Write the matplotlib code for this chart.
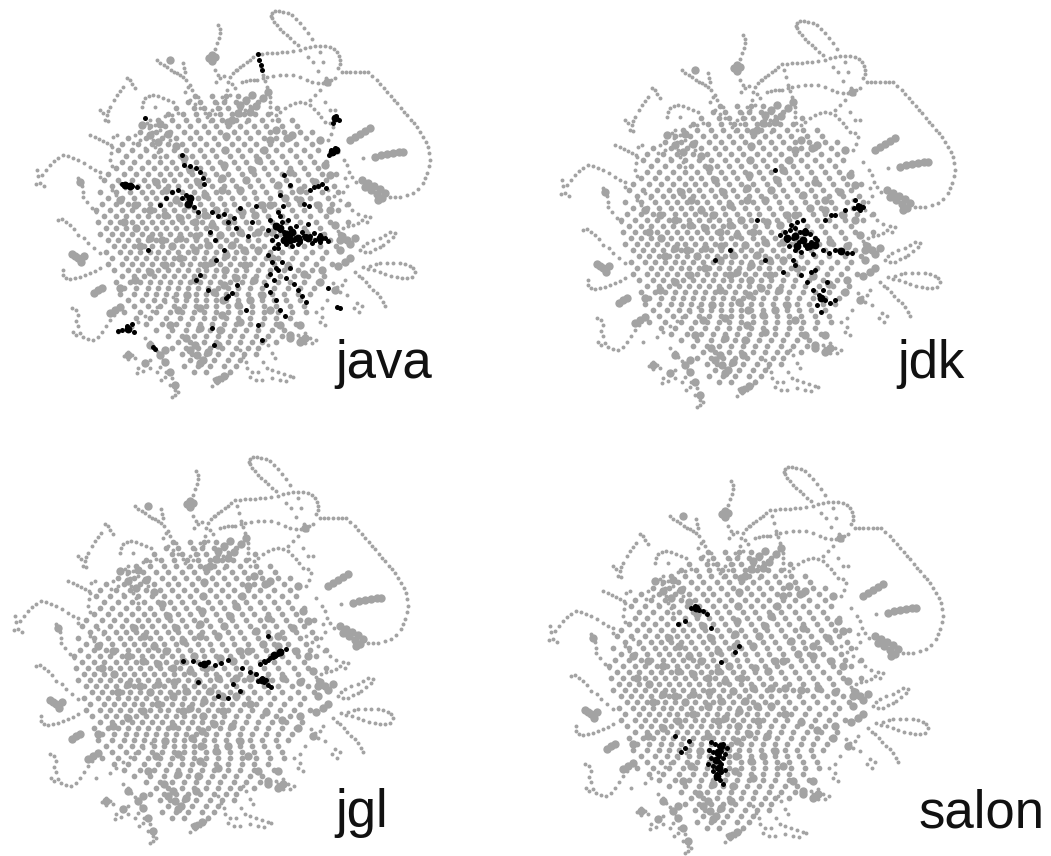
import numpy as np
import matplotlib
matplotlib.use('Agg')
import matplotlib.pyplot as plt

plt.rcParams['font.family'] = ['Liberation Sans', 'DejaVu Sans']

# all four panels show the same layout, coordinates
loop_chain = [(272,13),(275,11),(279,11),(283,12),(288,13),(292,15),(296,19),(300,23),(304,28),(308,33),(312,39),
              (271,16),(272,18),(274,22),(277,25),(280,29),(283,32),(287,35),(290,38),(294,42),(298,45),
              (262,54),(267,53),(272,53),(277,53),(282,52),(287,52),(293,51),(300,50),(305,48),(310,47),(315,46),(320,46),(325,46),(330,47),(334,49),(337,52),(339,56),(340,60),(340,64),(338,68),(342,72),(346,72),(350,72),(355,72),(360,72),(364,72),(368,72),(372,76),(377,80),(380,84),(384,88),(387,92),(391,96),(394,100),(397,103),(401,108),(404,112),(407,115),(411,120),(414,123),(417,127),(420,132),(423,137),(426,142),(428,147),(429,153),(430,160),(429,166),(427,173),(425,178),(423,183),(418,189),(413,193),(407,195),(400,197),(395,197),(390,197),
              (308,57),(320,52),(313,62),(323,62),(318,71),
              (263,78),(267,77),(273,76),(280,75),(286,75),(293,75),(300,77),(307,80),(312,82),(318,83),(323,83),(327,82),(331,80),(335,78),(326,78),(329,84),
              (230,77),(233,73),(237,70),(240,67),(243,65),(247,62),(250,60),(253,57),(242,82),(246,81),(250,80),(254,80),(257,80),
              (257,54),(259,60),(261,67),(263,75),(265,81),(267,87),(269,92),(270,97),(270,102),(270,107),(271,113),(272,120),
              (276,115),(280,112),(285,108),(290,105),(295,103),(300,102),(305,103),(310,105),(314,109),(318,113),(321,117),(325,122),(330,123),(333,127),(331,134),(328,140),(335,110),
              (363,158),(347,165),(349,172),(345,178),(347,186),(343,192),(352,177),(356,182)]

top_left = [(218,25),(220,29),(220,33),(219,38),(217,43),(215,49),(215,70),(218,75),(220,78),(216,82),(224,76),(228,82),(236,70),
            (157,60),(160,63),(164,65),(167,67),(171,70),(174,72),(177,73),(180,75),(183,63),(184,68),(185,72),(183,77),(186,80),(188,87),(190,85),
            (127,78),(130,80),(132,84),(135,88),(123,87),(120,91),(117,95),(114,100),(110,107),(108,111),(107,115),(100,110),(103,113),(105,120),(108,121),
            (142,107),(143,102),(145,98),(149,96),(153,95),(158,96),(163,98),(168,100),(173,102),(147,123),(149,128),(152,132),(153,140),(155,147),(158,152),(160,157),(160,122),(165,116),(172,115),(178,113),(155,107),
            (90,135),(95,137),(99,139),(103,141),(107,143),(111,145),(117,135),(113,137),(112,147),(111,153),(110,160),(112,166),(135,135),(140,140),(145,148),(133,143),
            (37,170),(38,176),(36,184),(40,183),(44,186),(42,175),(46,170),(50,165),(54,161),(58,158),(63,155),(68,156),(73,158),(78,160),(84,163),(90,167),(95,170),(100,172),(100,177),
            (78,178),(80,182),(82,186),(83,192),(83,197),(87,202),(92,208),(96,212),(112,190),(116,195),(120,183),(125,188)]

left_bottom = [(58,220),(62,219),(66,222),(70,225),(74,229),(78,235),(84,238),(88,243),(94,248),(100,253),
               (63,270),(63,275),(66,278),(70,279),(75,278),(80,277),(85,275),(90,273),(95,271),(100,268),
               (72,308),(76,310),(78,315),(76,321),(78,326),(73,332),(76,335),(80,333),(83,337),(88,339),(93,340),(98,337),(102,332),(106,326),(110,320),(114,315),
               (118,332),(132,327),(138,322),(145,316),(152,311),(157,307),(165,302),(173,297),
               (145,338),(150,342),(153,347),(157,351),(145,363),(150,360),(138,368),(137,373),(143,371),(150,368),
               (163,360),(160,367),(166,372),(165,377),(172,378),(170,385),(175,390),(175,395),(172,397),(178,392),(157,372),(161,380),
               (128,352),(124,356),(132,355),(135,358),(128,359),
               (217,383),(212,386),(222,380),(227,375),(230,371),(219,377),(214,379)]

right_bottom = [(243,357),(246,362),(240,350),(247,368),(252,372),(250,377),(256,380),(262,380),(258,372),(263,362),(267,368),(272,370),(278,372),(284,374),(290,376),(293,377),(280,380),(286,381),(272,378),(272,353),(275,358),(268,345),(265,340),
                (305,333),(300,338),(310,338),(305,343),(298,335),(312,343),(316,340),(322,317),(320,322),(316,312),(325,325),(322,308),(327,300),
                (357,303),(354,308),(359,312),(362,306),(337,287),(342,285),(340,292),(333,283),(347,295),(345,280),
                (355,272),(359,276),(362,278),(366,282),(369,286),(373,290),(377,293),(380,297),(383,302),(385,306),
                (363,267),(370,266),(376,264),(380,263),(387,263),(393,263),(400,263),(405,264),(410,266),(413,268),(415,272),(412,277),(407,278),(402,278),(397,277),(391,276),(385,274),(380,272),(374,270),(368,269),
                (395,233),(390,232),(385,235),(380,238),(373,240),(367,243),(363,246),(360,250),(365,252),(370,252),(375,249),(380,247),(383,245),(388,241),(393,237),
                (367,222),(362,220),(358,223),(353,225),(348,226),(343,228),(338,231),(370,217),(358,214),(365,216)]

# clumps drawn with a larger dot
blobs = [(212,55),(209,58),(215,57),(212,61),(350,140),(355,137),(360,134),(365,131),(370,128),
         (375,157),(381,155),(387,154),(393,153),(399,152),(403,152),
         (362,180),(368,183),(374,186),(380,189),(385,193),(365,187),(371,190),(377,194),(382,198),(378,200),
         (80,182),(78,258),(75,256),(81,262),(72,254),(84,256),(98,290),(94,293),(102,288),(115,310),(110,313),(120,307),
         (128,355),(145,363),(197,355),(203,360),(200,363),(208,352),(190,350),(195,345),
         (347,240),(350,244),(342,236),(355,238),(345,262),(350,258),(338,266),(287,138),(292,135),(327,82),(305,338),(300,342),(170,60),
         (240,105),(246,100),(252,95),(232,120),(238,113),(263,98),(268,92),(250,112),(256,106),
         (165,362),(170,372),(175,385),(160,355),(150,345),(165,350),(217,380),(224,376),(142,125),(150,135),(158,142),
         (320,140),(325,165),(300,200),(340,250),(330,210),(335,225),(318,205),(322,270),(300,325),(290,335)]

# radial arms through the dense part
arms = [(240,190),(246,180),(252,170),(258,160),(264,150),(270,140),(276,130),
        (222,190),(222,178),(224,165),(225,150),(226,136),(228,122),
        (205,195),(198,182),(190,170),(184,158),(176,146),(168,134),(160,124),
        (195,222),(180,218),(165,215),(150,210),(135,205),(120,200),
        (195,250),(180,258),(165,265),(150,272),(135,280),(120,288),
        (205,265),(195,280),(187,295),(178,310),(170,325),
        (225,270),(224,285),(223,300),(222,315),(220,330),(218,345),
        (245,265),(254,280),(262,295),(270,310),(280,325),(290,338),
        (258,232),(272,232),(288,234),(305,232),(322,236),(340,240),
        (255,215),(270,205),(285,198),(300,190),(315,182),(330,175),
        (258,250),(272,258),(288,266),(304,274),(320,282),(335,290),
        (205,215),(212,225),(220,235),(228,222),(216,210),(232,245),(208,245),(196,236),(240,232),(226,255),(212,262),(242,212),
        (180,238),(172,246),(162,240),(188,205),(176,200),(166,190),(156,182),(244,250),(236,278),(214,292),(200,308),(238,305),
        (150,238),(140,246),(136,228),(124,222),(262,205),(278,185),(290,172),(250,300),(240,322),(200,328),(186,338)]

# dense middle, one list of x values per row
center_rows = [
 (96,[195,212,226,238]),
 (102,[188,200,215,224,236,246,258]),
 (108,[176,194,204,218,228,240,251,277]),
 (114,[168,183,196,209,220,232,244,255,268]),
 (120,[158,172,186,198,212,222,236,248,262,278,292]),
 (126,[150,165,178,190,204,216,228,240,254,266,282,297]),
 (132,[140,156,170,184,196,208,220,234,246,258,270,284,300,312]),
 (138,[128,146,162,176,190,200,214,226,238,250,264,276,290,306]),
 (144,[122,138,152,168,182,194,206,218,232,244,256,270,282,296,312]),
 (150,[118,132,146,160,174,186,200,212,224,238,250,262,276,290,304,318]),
 (156,[126,140,154,166,180,192,204,216,230,242,256,268,282,296,310]),
 (162,[122,134,148,160,172,184,196,208,220,234,246,260,272,286,300,314,326]),
 (168,[116,130,142,154,166,176,188,200,212,224,238,250,264,276,290,304,318]),
 (174,[108,124,136,148,160,170,180,192,204,216,228,242,254,268,282,294,308,322,336]),
 (180,[104,118,132,144,154,164,174,186,196,208,220,232,246,258,272,286,298,312,326]),
 (186,[112,126,138,148,158,168,178,190,200,212,224,236,250,262,276,290,304,318,334]),
 (192,[100,116,130,142,152,162,172,182,194,204,216,228,240,254,266,280,292,306,322,338]),
 (198,[108,122,134,146,156,166,176,186,198,208,220,232,244,256,270,284,296,310,328]),
 (204,[102,116,128,138,150,160,170,180,190,200,212,224,234,248,260,274,288,300,316,332,348]),
 (210,[96,110,122,132,144,154,164,174,184,194,204,216,226,238,252,264,278,292,304,320,338]),
 (216,[104,116,126,138,148,158,168,178,188,198,208,220,230,242,254,268,282,296,310,326]),
 (222,[98,110,120,132,142,152,162,172,182,192,202,212,224,234,246,258,272,286,300,316,330,348]),
 (228,[106,116,126,136,146,156,166,176,186,196,206,216,228,238,250,262,276,290,304,320]),
 (234,[100,112,122,132,142,152,160,170,180,190,200,210,220,232,242,254,266,280,294,308,324,340]),
 (240,[108,118,128,138,148,156,166,176,186,196,206,216,226,236,248,258,272,286,300,314,330]),
 (246,[114,124,134,144,152,162,172,182,192,200,210,220,230,240,252,264,276,290,304,320,336]),
 (252,[106,120,130,140,150,158,168,178,188,196,206,216,226,236,246,258,270,282,296,312,326]),
 (258,[112,126,136,146,156,164,174,184,194,204,214,224,234,244,254,266,278,292,306,322]),
 (264,[108,122,132,142,152,162,172,182,190,200,210,220,230,240,250,262,274,288,302,316,332]),
 (270,[114,128,138,148,158,168,178,188,198,206,216,226,236,246,258,270,284,298,312]),
 (276,[122,134,144,154,164,174,184,194,204,214,224,234,244,256,268,280,294,308,324]),
 (282,[116,130,140,150,160,170,180,190,200,210,220,230,242,252,264,278,290,304,318]),
 (288,[124,136,148,158,168,178,188,198,208,218,228,238,250,262,274,288,300,314]),
 (294,[120,134,146,156,166,176,186,196,206,216,226,236,248,260,272,284,298,310]),
 (300,[128,142,154,164,176,186,196,206,216,226,238,250,262,274,286,300]),
 (306,[134,148,160,174,184,196,206,216,228,240,252,264,276,290,304]),
 (312,[124,140,156,170,182,194,204,216,228,240,252,264,278,292,306]),
 (318,[136,150,166,180,192,204,214,226,238,250,264,276,290]),
 (324,[146,162,176,188,200,212,224,236,250,262,276,296]),
 (330,[156,172,186,198,210,222,234,246,258,272,284]),
 (336,[168,182,194,206,218,230,242,256,268,282]),
 (342,[178,190,204,216,228,240,252,262,276]),
 (348,[172,186,198,210,222,236,248,258]),
 (354,[182,192,206,218,232,244,256]),
 (360,[190,202,214,228,240]),
 (366,[184,198,210,224,236]),
 (372,[194,206,230]),
]

# spokes that stand out from the middle
spokes = [(207,117),(212,110),(217,103),(222,97),(227,90),(232,84),(235,88),(230,95),(225,100),(220,108),(215,114),(210,121),
          (230,125),(235,120),(240,115),(245,110),(250,106),(234,131),(240,127),(246,122),
          (190,100),(195,104),(200,108),(205,113),(185,92),(192,90),(198,97),
          (150,120),(155,125),(160,130),(165,135),(170,140),(175,146),
          (310,100),(315,95),(320,90),(325,102),(330,110),(338,152),(344,160),
          (352,210),(346,205),(340,200),(334,196),(328,190)]

java_black = [(122,184),(127,185),(132,186),(137,187),(145,118),(258,54),(259,60),(261,65),(262,70),
              (336,116),(339,120),(333,123),(331,150),(335,148),(329,155),(333,153),
              (160,205),(166,198),(172,192),(178,190),(184,165),(190,166),(196,168),(200,172),(203,178),(204,184),
              (186,195),(190,202),(194,207),(182,198),(198,212),
              (212,212),(218,216),(224,214),(228,222),(234,218),(240,208),(236,228),(248,236),(252,222),(256,206),(210,232),(215,240),
              (270,220),(275,225),(280,230),(285,233),(290,236),(295,238),(300,240),(305,238),(310,236),(315,240),(320,235),(325,238),(328,241),
              (272,240),(278,244),(284,232),(290,228),(296,226),(302,232),(308,224),(314,233),(320,242),(276,236),(282,222),(288,220),(294,240),
              (300,242),(306,236),(312,243),(274,248),(280,216),(286,244),(292,246),(298,244),(304,236),(278,248),(284,175),(290,185),(280,195),(283,206),(278,212),
              (268,255),(272,262),(276,268),(270,274),(274,280),(278,270),(282,262),(286,278),(290,268),(294,284),(298,290),(302,296),(306,302),
              (266,285),(270,292),(276,300),(280,310),(285,316),
              (310,190),(314,187),(318,186),(322,184),(326,188),(304,204),(309,206),
              (228,296),(232,293),(226,298),(134,332),(122,330),(118,331),(127,326),(132,324),(153,347),(155,349),
              (337,307),(340,308),(328,288),(182,155),(148,250),(200,275),(196,280),(208,290),
              (237,285),(224,250),(246,310),(216,260),(258,325),(262,340),(214,345),(212,328),(268,230)]
java_big = [(280,228),(286,234),(292,232),(284,240),(276,226),(290,240),(298,238),(308,238),(320,238),(335,118),(332,152),(336,150),(190,198),(188,204),(125,185),(130,186),(128,329)]

jdk_black = [(255,225),(260,222),(265,220),(270,218),(275,222),(280,220),(285,224),(290,228),(262,230),(268,228),(274,232),(280,235),(286,232),(292,230),
             (264,236),(270,240),(276,242),(282,238),(288,244),(266,215),(272,212),(278,210),
             (298,240),(304,243),(310,240),(316,241),(322,243),(327,243),
             (333,195),(335,200),(329,198),(338,197),(300,210),(310,205),(320,200),(330,190),
             (270,255),(276,265),(282,272),(288,280),(294,285),(300,290),(305,293),(310,290),(298,280),(292,295),(302,272),(286,262),(296,302),
             (190,250),(205,240),(250,160),(240,250),(258,262),(268,250),(290,260),(306,205),(232,210)]
jdk_big = [(270,226),(278,230),(284,236),(272,236),(262,228),(280,222),(290,235),(334,197),(316,241),(296,288)]

jgl_black = [(292,212),(298,209),(303,205),(308,203),(286,215),(290,214),(295,211),(300,208),(282,218),(287,216),
             (205,215),(215,215),(222,218),(230,216),(237,219),(243,217),(250,214),
             (272,226),(278,228),(284,232),(286,236),(290,239),(280,235),(288,234),(293,241),(264,222),(250,252),(240,250),(255,238),(262,245),(290,190),(220,236)]
jgl_big = [(296,209),(302,206),(284,234),(226,218)]

salon_black = [(178,152),(182,150),(186,154),(190,155),(194,158),(172,165),(165,168),(198,172),(222,196),(226,190),(208,206),
               (198,286),(202,288),(206,290),(210,288),(214,292),(196,294),(200,296),(204,298),(208,295),(212,298),(198,302),(202,304),(206,306),(210,302),
               (195,308),(200,310),(204,312),(208,308),(200,315),(204,318),(208,316),(212,314),(203,322),(207,324),(210,328),(206,300),
               (172,292),(168,296),(176,285),(162,280)]
salon_big = [(205,296),(203,304),(206,312),(204,320),(208,290),(183,152)]

label_names = ['java', 'jdk', 'jgl', 'salon']
label_x = [335, 897, 335, 918]
label_y = [378, 378, 827, 827]
offset_x = [0, 525, -22, 513]
offset_y = [0, 10, 446, 456]
panel_black = [java_black, jdk_black, jgl_black, salon_black]
panel_big = [java_big, jdk_big, jgl_big, salon_big]

# put it all together
outer = np.array(loop_chain + top_left + left_bottom + right_bottom + spokes)
pts = []
for row_y, row_xs in center_rows:
    pts = pts + [(x, row_y) for x in row_xs]
middle = np.array(pts)
blob = np.array(blobs + arms)

W, H = 1051, 856
fig = plt.figure(figsize=(W/100, H/100), dpi=100)
box_w, box_h = 460, 420

for i, name in enumerate(label_names):
    # axes in pixel units of the java panel
    left = offset_x[i] / W
    bottom = 1 - (offset_y[i] + box_h) / H
    ax = fig.add_axes([left, bottom, box_w / W, box_h / H])
    ax.set_xlim(0, box_w)
    ax.set_ylim(box_h, 0)
    ax.axis('off')
    ax.scatter(outer[:, 0], outer[:, 1], s=8, c='#a3a3a3', linewidths=0, clip_on=False)
    ax.scatter(middle[:, 0], middle[:, 1], s=17, c='#a3a3a3', linewidths=0, clip_on=False)
    ax.scatter(blob[:, 0], blob[:, 1], s=36, c='#a3a3a3', linewidths=0, clip_on=False)
    black = np.array(panel_black[i])
    big = np.array(panel_big[i])
    ax.scatter(black[:, 0], black[:, 1], s=13, c='black', linewidths=0, clip_on=False, zorder=3)
    ax.scatter(big[:, 0], big[:, 1], s=32, c='black', linewidths=0, clip_on=False, zorder=3)
    ax.text(label_x[i] - offset_x[i], label_y[i] - offset_y[i], name, fontsize=38,
            color='#111111', ha='left', va='baseline', clip_on=False)

fig.savefig('out.png', dpi=100)
